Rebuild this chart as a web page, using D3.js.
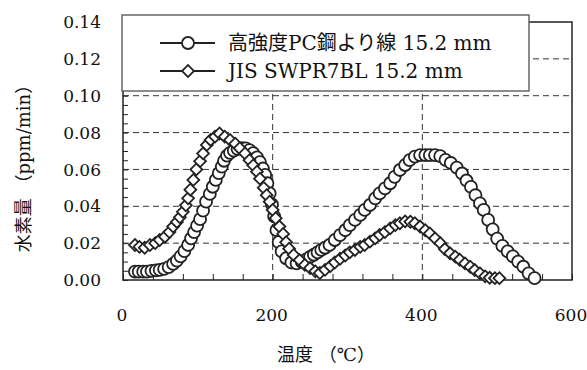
<!DOCTYPE html>
<html>
<head>
<meta charset="utf-8">
<script src="https://cdn.jsdelivr.net/npm/d3@7"></script>
<style>
  body { margin: 0; background: #fff; }
  text { font-family: "DejaVu Serif", "Noto Sans CJK JP", serif; fill: #111; }
</style>
</head>
<body>
<div id="chart"></div>
<script>
// 高強度PC鋼より線 15.2 mm (circles)
const tempCircle = [16,21,27,32,38,44,49,55,61,67,72,77,82,87,91,95,99,103,107,111,116,120,124,128,132,135,139,143,148,153,159,164,169,174,179,183,187,190,193,196,199,202,205,208,212,218,225,232,239,245,250,255,260,265,270,276,283,290,297,303,310,317,323,330,337,343,350,357,363,370,377,383,390,397,404,410,417,424,431,438,446,453,459,465,471,477,482,488,494,500,507,514,521,528,535,542,550];
const valCircle = [.0045,.0045,.0045,.0045,.005,.0052,.0055,.006,.007,.0087,.0105,.0128,.0157,.019,.0226,.026,.0295,.033,.0376,.0425,.0467,.0506,.0543,.058,.0615,.0647,.0675,.069,.0702,.0712,.0716,.0714,.0705,.0688,.0665,.064,.0605,.057,.0525,.047,.041,.0345,.027,.0205,.0155,.0118,.0095,.009,.0098,.0112,.0125,.0137,.015,.0163,.0175,.019,.0217,.0244,.027,.0298,.0326,.0353,.038,.0407,.0443,.047,.0497,.0525,.056,.0597,.0624,.065,.067,.0678,.0678,.0678,.0678,.0672,.0652,.0635,.061,.0578,.054,.0505,.046,.0416,.038,.0326,.0275,.0225,.0185,.0155,.0128,.01,.0072,.0036,.001];

// JIS SWPR7BL 15.2 mm (diamonds)
const tempDiamond = [16,22,29,36,43,49,56,62,67,72,76,80,84,87,90,94,98,103,107,112,117,123,129,136,143,150,156,163,169,174,179,183,188,192,196,200,204,209,214,218,222,228,236,243,250,257,263,270,277,283,290,297,303,310,317,323,330,337,343,350,357,364,370,377,384,390,397,404,410,417,424,430,437,444,450,457,464,470,477,484,490,497,503];
const valDiamond = [.019,.018,.0175,.019,.02,.0217,.0235,.026,.029,.0315,.034,.037,.0405,.0443,.049,.0543,.06,.0645,.0687,.0733,.076,.0778,.0795,.0778,.076,.074,.0715,.0687,.065,.0622,.0588,.055,.05,.046,.0425,.038,.0335,.029,.025,.0205,.017,.0136,.0108,.0082,.0065,.0047,.0038,.0055,.0075,.0095,.0115,.0133,.015,.0163,.018,.019,.0208,.0226,.0244,.026,.028,.0298,.0308,.0318,.0316,.0308,.029,.027,.0253,.0226,.02,.0168,.0145,.0127,.011,.009,.0072,.0054,.0036,.002,.0012,.001,.001];

const seriesNames = ["高強度PC鋼より線 15.2 mm", "JIS SWPR7BL 15.2 mm"];
const xTickLabels = [0, 200, 400, 600];
const yTickLabels = [0, 0.02, 0.04, 0.06, 0.08, 0.10, 0.12, 0.14];
const xGrid = [200, 400];
const yGrid = [0.02, 0.04, 0.06, 0.08, 0.10, 0.12];

const width = 587, height = 370;
const margin = { top: 22, right: 15, bottom: 90, left: 123 };

const svg = d3.select("#chart").append("svg")
    .attr("width", width)
    .attr("height", height);

const x = d3.scaleLinear().domain([0, 600]).range([margin.left, width - margin.right]);
const y = d3.scaleLinear().domain([0, 0.14]).range([height - margin.bottom, margin.top]);

// dashed grid
svg.append("g").selectAll("line.hgrid")
    .data(yGrid).enter().append("line")
    .attr("x1", x(0)).attr("x2", x(600))
    .attr("y1", d => y(d)).attr("y2", d => y(d))
    .attr("stroke", "#333").attr("stroke-width", 1)
    .attr("stroke-dasharray", "6,4");
svg.append("g").selectAll("line.vgrid")
    .data(xGrid).enter().append("line")
    .attr("x1", d => x(d)).attr("x2", d => x(d))
    .attr("y1", y(0)).attr("y2", y(0.14))
    .attr("stroke", "#333").attr("stroke-width", 1)
    .attr("stroke-dasharray", "6,4");

// inner ticks
const xAxis = d3.axisTop(x).tickValues(d3.range(0, 601, 40)).tickSize(6).tickFormat("");
svg.append("g").attr("transform", `translate(0,${y(0)})`).call(xAxis)
    .call(g => g.select(".domain").remove())
    .selectAll("line").attr("stroke", "#222");
const yAxis = d3.axisRight(y).tickValues(d3.range(0, 0.1401, 0.005)).tickSize(5).tickFormat("");
svg.append("g").attr("transform", `translate(${x(0)},0)`).call(yAxis)
    .call(g => g.select(".domain").remove())
    .selectAll("line").attr("stroke", "#222");

// frame
svg.append("rect")
    .attr("x", x(0)).attr("y", y(0.14))
    .attr("width", x(600) - x(0)).attr("height", y(0) - y(0.14))
    .attr("fill", "none").attr("stroke", "#222").attr("stroke-width", 1.5);

// tick labels
svg.append("g").selectAll("text")
    .data(yTickLabels).enter().append("text")
    .attr("x", 101).attr("y", d => y(d)).attr("dy", "0.36em")
    .attr("text-anchor", "end").attr("font-size", 17)
    .text(d => d.toFixed(2));
svg.append("g").selectAll("text")
    .data(xTickLabels).enter().append("text")
    .attr("x", d => x(d) - 1).attr("y", 321)
    .attr("text-anchor", "middle").attr("font-size", 17)
    .text(d => d);

// axis titles
svg.append("text")
    .attr("x", 326).attr("y", 361)
    .attr("text-anchor", "middle").attr("font-size", 18)
    .text("温度 （℃）");
svg.append("text")
    .attr("transform", "translate(30,164) rotate(-90)")
    .attr("text-anchor", "middle").attr("font-size", 18)
    .text("水素量 （ppm/min）");

// markers
const circleData = tempCircle.map((t, i) => ({ t: t, v: valCircle[i] }));
const diamondData = tempDiamond.map((t, i) => ({ t: t, v: valDiamond[i] }));
const diamond = d3.symbol().type(d3.symbolSquare).size(70);

svg.append("g").selectAll("circle")
    .data(circleData).enter().append("circle")
    .attr("cx", d => x(d.t)).attr("cy", d => y(d.v)).attr("r", 6)
    .attr("fill", "#fff").attr("stroke", "#222").attr("stroke-width", 1.8);

svg.append("g").selectAll("path")
    .data(diamondData).enter().append("path")
    .attr("d", diamond)
    .attr("transform", d => `translate(${x(d.t)},${y(d.v)}) rotate(45)`)
    .attr("fill", "#fff").attr("stroke", "#222").attr("stroke-width", 1.8);

// legend
const legend = svg.append("g");
legend.append("rect")
    .attr("x", 122).attr("y", 15).attr("width", 407).attr("height", 76)
    .attr("fill", "#fff").attr("stroke", "#666").attr("stroke-width", 1.5);
const rows = legend.selectAll("g.row")
    .data(seriesNames).enter().append("g")
    .attr("transform", (d, i) => `translate(0,${43 + i * 28})`);
rows.append("line")
    .attr("x1", 160).attr("x2", 215)
    .attr("stroke", "#222").attr("stroke-width", 1.8);
rows.filter((d, i) => i === 0).append("circle")
    .attr("cx", 188).attr("r", 6)
    .attr("fill", "#fff").attr("stroke", "#222").attr("stroke-width", 1.8);
rows.filter((d, i) => i === 1).append("path")
    .attr("d", diamond)
    .attr("transform", "translate(188,0) rotate(45)")
    .attr("fill", "#fff").attr("stroke", "#222").attr("stroke-width", 1.8);
rows.append("text")
    .attr("x", 228).attr("dy", "0.36em").attr("font-size", 20)
    .text(d => d);
</script>
</body>
</html>
